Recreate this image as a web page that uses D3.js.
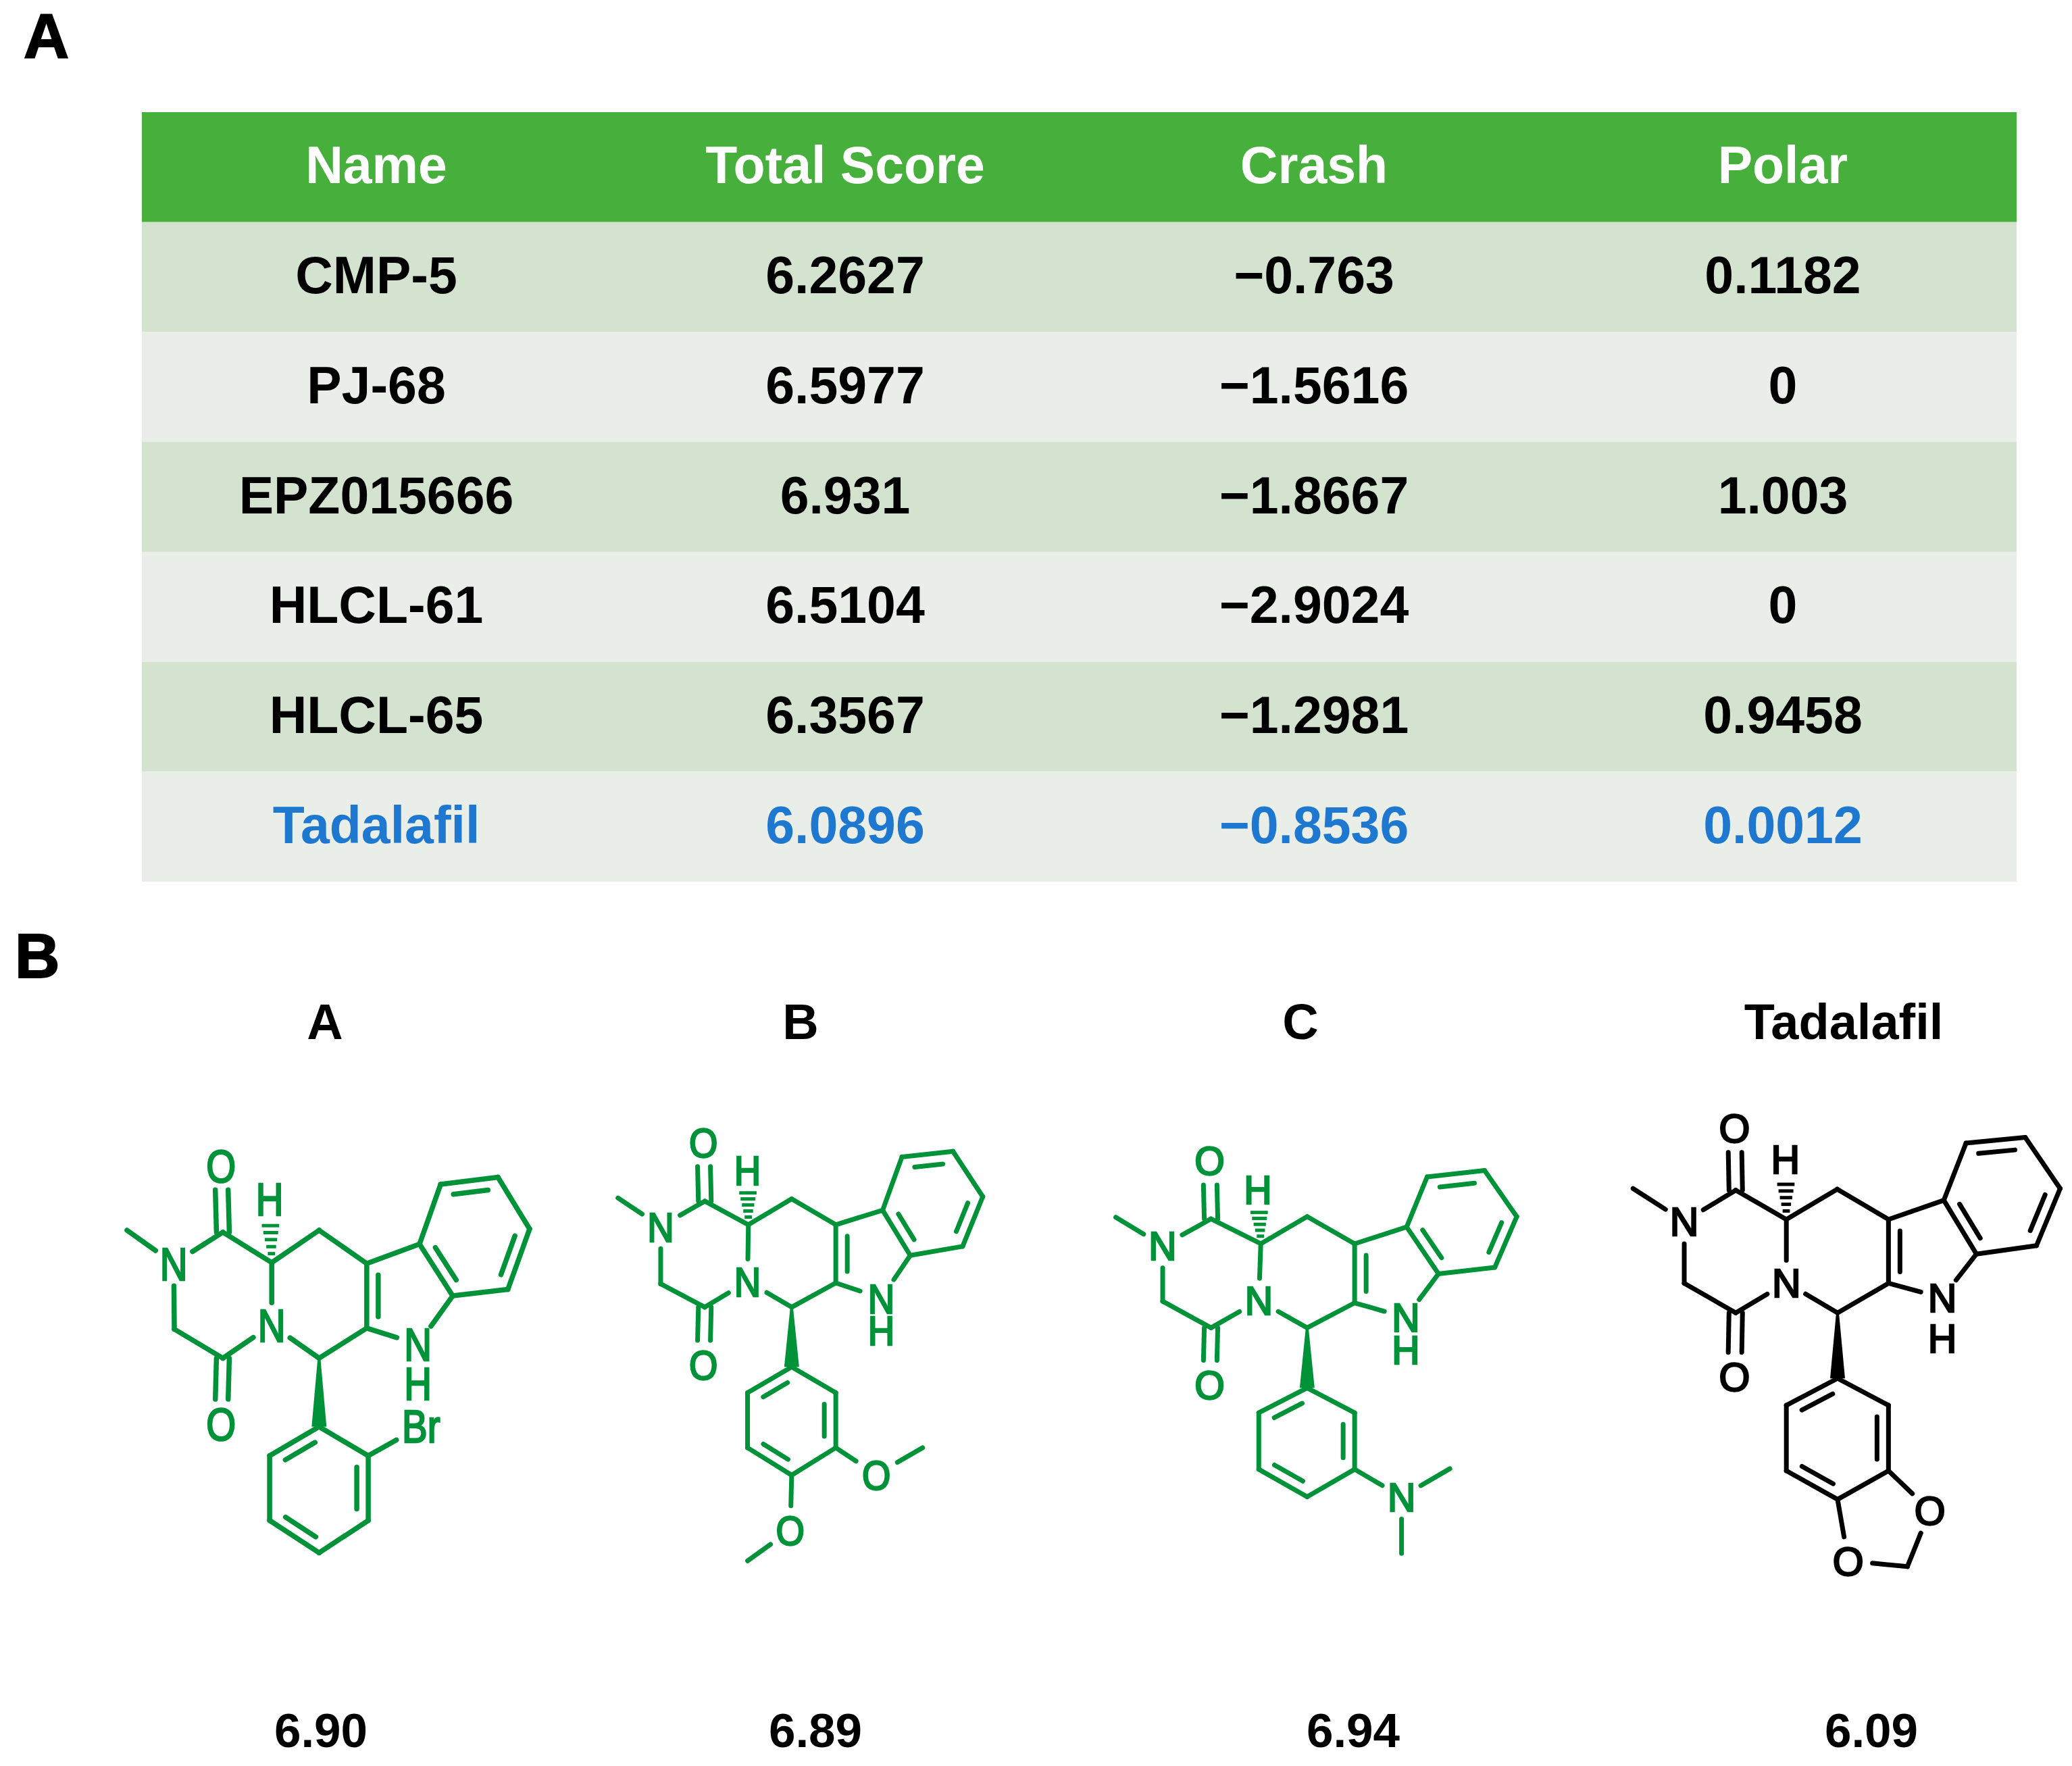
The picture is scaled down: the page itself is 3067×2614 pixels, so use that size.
<!DOCTYPE html>
<html>
<head>
<meta charset="utf-8">
<script src="https://cdn.jsdelivr.net/npm/d3@7"></script>
<style>
  html, body { margin: 0; padding: 0; background: #fff; }
  svg { display: block; }
  text { font-family: "Liberation Sans", Arial, sans-serif; }
</style>
</head>
<body>
<svg id="chart"></svg>
<script>
// table values
const columns = ['Name', 'Total Score', 'Crash', 'Polar'];
const names = ['CMP-5', 'PJ-68', 'EPZ015666', 'HLCL-61', 'HLCL-65', 'Tadalafil'];
const totalScore = ['6.2627', '6.5977', '6.931', '6.5104', '6.3567', '6.0896'];
const crash = ['\u22120.763', '\u22121.5616', '\u22121.8667', '\u22122.9024', '\u22121.2981', '\u22120.8536'];
const polar = ['0.1182', '0', '1.003', '0', '0.9458', '0.0012'];

// panel B labels
const moleculeNames = ['A', 'B', 'C', 'Tadalafil'];
const moleculeScores = ['6.90', '6.89', '6.94', '6.09'];

const atomsA = {Me:[85,462],N1:[240,565],C2:[403,468],O1:[397,262],C3:[565,562],H:[558,365],C4:[722,462],C5:[880,565],C6:[880,765],C7:[1055,505],C8:[1165,665],NH:[1050,815],Hn:[1050,935],C9:[1125,320],C10:[1315,298],C11:[1420,458],C12:[1348,645],N2:[565,755],C13:[722,858],C14:[403,858],O2:[397,1060],C15:[242,768],C16:[722,1070],C17:[885,1160],C18:[885,1360],C19:[722,1460],C20:[558,1360],C21:[558,1160],Br:[1060,1068]};
const atomsB = {Me:[85,362],N1:[240,450],C2:[400,372],O1:[395,190],C3:[558,445],H:[555,275],C4:[715,365],C5:[875,445],C6:[875,625],C7:[1045,400],C8:[1145,540],NH:[1040,672],Hn:[1040,770],C9:[1115,235],C10:[1300,218],C11:[1408,358],C12:[1335,512],N2:[555,620],C13:[715,700],C14:[400,700],O2:[395,878],C15:[240,628],C16:[715,885],C17:[875,965],C18:[875,1135],C19:[715,1220],C20:[555,1135],C21:[555,965],O3:[1022,1218],Me3:[1190,1135],O4:[710,1390],Me4:[555,1485]};
const atomsC = {Me:[75,380],N1:[240,468],C2:[410,385],O1:[405,205],C3:[585,462],H:[575,295],C4:[748,378],C5:[915,462],C6:[915,645],C7:[1098,410],C8:[1210,555],NH:[1095,690],Hn:[1095,790],C9:[1170,255],C10:[1372,235],C11:[1485,378],C12:[1408,535],N2:[578,638],C13:[748,722],C14:[410,722],O2:[405,898],C15:[240,640],C16:[748,908],C17:[915,985],C18:[915,1160],C19:[748,1245],C20:[578,1160],C21:[578,985],N3:[1080,1245],Me3:[1250,1158],Me4:[1080,1420]};
const atomsT = {Me:[85,320],N1:[258,418],C2:[432,325],O1:[428,140],C3:[603,412],H:[600,232],C4:[775,322],C5:[948,412],C6:[948,602],C7:[1135,355],C8:[1245,515],NH:[1130,645],Hn:[1130,765],C9:[1210,185],C10:[1410,168],C11:[1528,320],C12:[1448,490],N2:[603,600],C13:[776,690],C14:[432,690],O2:[428,880],C15:[258,602],C16:[776,885],C17:[948,965],C18:[948,1160],C19:[776,1245],C20:[603,1160],C21:[603,965],O3:[1088,1278],O4:[812,1428],CH:[1012,1445]};

const coreBonds = [['Me','N1'],['N1','C2'],['C2','C3'],['C3','C4'],['C4','C5'],['C5','C6'],['C5','C7'],['C7','C8'],['C8','NH'],['C6','NH'],
  ['C7','C9'],['C9','C10'],['C10','C11'],['C11','C12'],['C12','C8'],['C3','N2'],['N2','C13'],['C13','C6'],['N2','C14'],['C14','C15'],['C15','N1'],
  ['C16','C17'],['C17','C18'],['C18','C19'],['C19','C20'],['C20','C21'],['C21','C16']];
const carbonyls = [['C2','O1'],['C14','O2']];
const benzo = ['C7','C8','C12','C11','C10','C9'];
const pyrrole = ['C5','C6','NH','C8','C7'];
const aryl = ['C16','C17','C18','C19','C20','C21'];
const innerBonds = [['C5','C6',pyrrole],['C7','C8',benzo],['C9','C10',benzo],['C11','C12',benzo],['C16','C21',aryl],['C17','C18',aryl],['C19','C20',aryl]];
const coreLabels = ['N1','N2','NH','Hn','O1','O2','H'];

const extraBondsA = [['C17','Br']];
const extraBondsB = [['C18','O3'],['O3','Me3'],['C19','O4'],['O4','Me4']];
const extraBondsC = [['C18','N3'],['N3','Me3'],['N3','Me4']];
const extraBondsT = [['C18','O3'],['O3','CH'],['CH','O4'],['O4','C19']];

const width = 3067, height = 2614;
const svg = d3.select('#chart').attr('width', width).attr('height', height).attr('viewBox', [0, 0, width, height]);

// panel letters
svg.append('text').attr('x', 35).attr('y', 85).attr('font-size', 93).attr('font-weight', 700)
  .attr('stroke', '#000').attr('stroke-width', 2).text('A');
svg.append('text').attr('x', 22).attr('y', 1447).attr('font-size', 92).attr('font-weight', 700)
  .attr('stroke', '#000').attr('stroke-width', 2).text('B');

// ---- table
const tableRows = names.map((d, i) => [d, totalScore[i], crash[i], polar[i]]);
const xBand = d3.scaleBand().domain(d3.range(columns.length)).range([209, 2985]);
const yBand = d3.scaleBand().domain(d3.range(tableRows.length + 1)).range([166, 1305]);

svg.append('g').selectAll('rect')
  .data(d3.range(tableRows.length + 1))
  .join('rect')
  .attr('x', 210)
  .attr('y', d => yBand(d))
  .attr('width', 2985 - 210)
  .attr('height', yBand.bandwidth())
  .attr('fill', d => d === 0 ? '#47af3b' : (d % 2 ? '#d3e3d0' : '#e9efe8'));

function cellText(g, values, row, color) {
  g.selectAll('text.r' + row)
    .data(values)
    .join('text')
    .attr('class', 'r' + row)
    .attr('x', (d, i) => xBand(i) + xBand.bandwidth() / 2 + 1)
    .attr('y', yBand(row) + yBand.bandwidth() / 2 + 24)
    .attr('text-anchor', 'middle')
    .attr('font-size', 77)
    .attr('font-weight', 700)
    .attr('fill', color)
    .text(d => d);
}

const tableText = svg.append('g');
cellText(tableText, columns, 0, '#fff');
tableRows.forEach((r, i) => cellText(tableText, r, i + 1, i === tableRows.length - 1 ? '#1f78cf' : '#000'));

// ---- structures
const trimFor = {N: 33, O: 36, B: 42};

function drawMolecule(mol) {
  const g = svg.append('g');
  const sx = d3.scaleLinear().domain([0, 1568]).range([mol.crop[0], mol.crop[0] + mol.crop[2]]);
  const sy = d3.scaleLinear().domain([0, 1568]).range([mol.crop[1], mol.crop[1] + mol.crop[3]]);
  const pos = k => [sx(mol.atoms[k][0]), sy(mol.atoms[k][1])];
  const labelled = k => coreLabels.includes(k) || mol.labels.includes(k);
  const trim = k => labelled(k) ? (trimFor[k[0]] || 0) : 0;

  // shorten a segment by a given length at each end
  const shorten = (a, b, ta, tb) => {
    const len = Math.hypot(b[0] - a[0], b[1] - a[1]);
    const ux = (b[0] - a[0]) / len, uy = (b[1] - a[1]) / len;
    return [[a[0] + ux * ta, a[1] + uy * ta], [b[0] - ux * tb, b[1] - uy * tb]];
  };

  const segs = coreBonds.concat(mol.bonds).map(([a, b]) => shorten(pos(a), pos(b), trim(a), trim(b)));

  carbonyls.forEach(([a, b]) => {
    const [p, q] = shorten(pos(a), pos(b), 0, trim(b));
    [-mol.gap, mol.gap].forEach(o => segs.push([[p[0] + o, p[1]], [q[0] + o, q[1]]]));
  });

  innerBonds.forEach(([a, b, ring]) => {
    const cx = d3.mean(ring, k => pos(k)[0]), cy = d3.mean(ring, k => pos(k)[1]);
    const pa = pos(a), pb = pos(b);
    const mx = (pa[0] + pb[0]) / 2, my = (pa[1] + pb[1]) / 2;
    const dx = pb[0] - pa[0], dy = pb[1] - pa[1], len = Math.hypot(dx, dy);
    let nx = -dy / len, ny = dx / len;
    if (nx * (cx - mx) + ny * (cy - my) < 0) { nx = -nx; ny = -ny; }
    const off = 17;
    segs.push(shorten([pa[0] + nx * off, pa[1] + ny * off], [pb[0] + nx * off, pb[1] + ny * off], 17, 17));
  });

  const line = d3.line();
  g.selectAll('path.bond')
    .data(segs)
    .join('path')
    .attr('class', 'bond')
    .attr('d', d => line(d))
    .attr('fill', 'none')
    .attr('stroke', mol.color)
    .attr('stroke-width', mol.strokeWidth)
    .attr('stroke-linecap', 'round');

  // wedge bond to the aryl ring
  const w0 = pos('C13'), w1 = pos('C16');
  g.append('path')
    .attr('d', line([[w0[0] - 2, w0[1]], [w0[0] + 2, w0[1]], [w1[0] + 11, w1[1]], [w1[0] - 11, w1[1]]]) + 'Z')
    .attr('fill', mol.color);

  // hashed bond to the stereo H
  const h0 = pos('C3'), h1 = pos('H');
  g.selectAll('path.hash')
    .data([0.14, 0.25, 0.36, 0.47, 0.58])
    .join('path')
    .attr('class', 'hash')
    .attr('d', t => {
      const x = h0[0] + (h1[0] - h0[0]) * t, y = h0[1] + (h1[1] - h0[1]) * t, hw = 3 + t * 17;
      return line([[x - hw, y], [x + hw, y]]);
    })
    .attr('stroke', mol.color)
    .attr('stroke-width', 5);

  const labelText = k => k === 'Br' ? 'Br' : (k[0] === 'H' ? 'H' : k[0]);
  g.selectAll('text')
    .data(coreLabels.concat(mol.labels))
    .join('text')
    .attr('transform', k => `translate(${pos(k)[0]},${pos(k)[1]}) scale(${mol.textScale},1)`)
    .attr('dy', '0.36em')
    .attr('text-anchor', 'middle')
    .attr('font-size', mol.fontSize)
    .attr('fill', mol.color)
    .attr('stroke', mol.color)
    .attr('stroke-width', 2.6)
    .text(labelText);
}

const green = '#009239';
const molecules = [
  {atoms: atomsA, crop: [150, 1600, 700, 750], bonds: extraBondsA, labels: ['Br'], color: green, fontSize: 68, textScale: 0.83, gap: 9.5, strokeWidth: 7.5},
  {atoms: atomsB, crop: [880, 1600, 640, 750], bonds: extraBondsB, labels: ['O3', 'O4'], color: green, fontSize: 62, textScale: 0.88, gap: 9.5, strokeWidth: 7},
  {atoms: atomsC, crop: [1620, 1620, 660, 750], bonds: extraBondsC, labels: ['N3'], color: green, fontSize: 59, textScale: 0.97, gap: 10, strokeWidth: 7},
  {atoms: atomsT, crop: [2380, 1600, 687, 780], bonds: extraBondsT, labels: ['O3', 'O4'], color: '#000', fontSize: 59, textScale: 1, gap: 10, strokeWidth: 7}
];
molecules.forEach(drawMolecule);

// ---- captions and docking scores under panel B
const captionX = d3.scaleOrdinal().domain(moleculeNames).range([481, 1185, 1925, 2729]);
const scoreX = d3.scaleOrdinal().domain(moleculeScores).range([475, 1207, 2003, 2770]);

svg.append('g').selectAll('text')
  .data(moleculeNames)
  .join('text')
  .attr('x', d => captionX(d))
  .attr('y', 1538)
  .attr('text-anchor', 'middle')
  .attr('font-size', 74)
  .attr('font-weight', 700)
  .text(d => d);

svg.append('g').selectAll('text')
  .data(moleculeScores)
  .join('text')
  .attr('x', d => scoreX(d))
  .attr('y', 2586)
  .attr('text-anchor', 'middle')
  .attr('font-size', 71)
  .attr('font-weight', 700)
  .text(d => d);
</script>
</body>
</html>
